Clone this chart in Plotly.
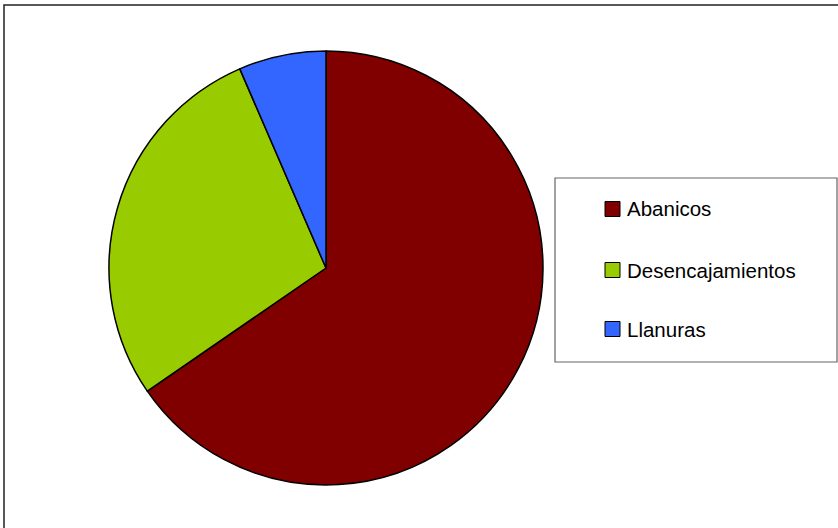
import plotly.graph_objects as go

labels = ["Abanicos", "Desencajamientos", "Llanuras"]
values = [65.4, 28.1, 6.5]
colors = ["#800000", "#99CC00", "#3366FF"]

W, H = 838, 528

fig = go.Figure()
fig.add_trace(go.Pie(
    labels=labels, values=values, sort=False, direction="clockwise", rotation=0,
    marker=dict(colors=colors, line=dict(color="black", width=1.5)),
    textinfo="none", hoverinfo="label+percent", showlegend=False,
    domain=dict(x=[109 / W, 543 / W], y=[43 / H, 477 / H]),
))

shapes = []
# outer chart border (right/bottom edges run off the picture)
shapes.append(dict(type="rect", xref="paper", yref="paper",
                   x0=4 / W, x1=1.02, y0=-0.02, y1=1 - 5 / H,
                   line=dict(color="#222222", width=1.5), fillcolor="rgba(0,0,0,0)"))
# legend box
shapes.append(dict(type="rect", xref="paper", yref="paper",
                   x0=555 / W, x1=837 / W, y0=1 - 362 / H, y1=1 - 178 / H,
                   line=dict(color="#666666", width=1.2), fillcolor="white"))

annotations = []
ys = [209, 270, 329]
for lab, col, yy in zip(labels, colors, ys):
    shapes.append(dict(type="rect", xref="paper", yref="paper",
                       x0=605 / W, x1=620 / W, y0=1 - (yy + 7.5) / H, y1=1 - (yy - 7.5) / H,
                       line=dict(color="black", width=1), fillcolor=col))
    annotations.append(dict(x=625 / W, y=1 - yy / H, xref="paper", yref="paper",
                            text=lab, showarrow=False, xanchor="left", yanchor="middle",
                            font=dict(family="Liberation Sans, Arial", size=20.5, color="black")))

fig.update_layout(
    width=W, height=H,
    margin=dict(l=0, r=0, t=0, b=0),
    paper_bgcolor="white", plot_bgcolor="white",
    shapes=shapes, annotations=annotations,
)

fig.write_html("out.html", config={"displayModeBar": False},
               post_script="document.body.style.margin='0';")
